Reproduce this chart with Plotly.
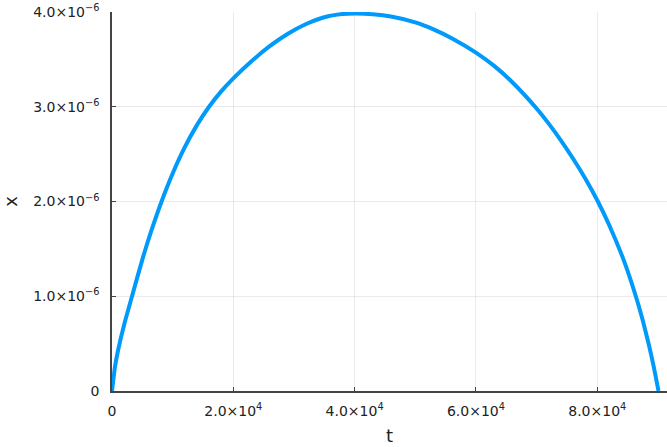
import plotly.graph_objects as go

# data (t, x in units of 1e-6)
t_vals = [0, 500, 1000, 2000, 3300, 5000, 6500, 8200, 10000, 12000, 14000, 16000,
          18000, 20000, 23000, 26000, 29000, 32000, 35000, 38000, 40200,
          43000, 46000, 50000, 53000, 56000, 60000, 63000, 66000, 70000, 72000,
          74000, 76000, 78000, 80000, 82000, 84000, 85000, 86500, 87500, 88500,
          89300, 90100]
x_vals_e6 = [0, 0.26, 0.43, 0.70, 1.0, 1.387, 1.694, 2.006, 2.296, 2.573, 2.806, 3.0,
             3.162, 3.30, 3.48, 3.639, 3.77, 3.873, 3.945, 3.978, 3.984,
             3.976, 3.952, 3.89, 3.817, 3.724, 3.572, 3.431, 3.259, 2.982, 2.822,
             2.646, 2.454, 2.246, 2.013, 1.747, 1.442, 1.267, 0.971, 0.746, 0.491,
             0.26, 0]
x_vals = [v * 1e-6 for v in x_vals_e6]

xtick_vals = [0, 2e4, 4e4, 6e4, 8e4]
xtick_text = ["0", "2.0×10<sup>4</sup>", "4.0×10<sup>4</sup>", "6.0×10<sup>4</sup>", "8.0×10<sup>4</sup>"]
ytick_vals = [0, 1e-6, 2e-6, 3e-6, 4e-6]
ytick_text = ["0", "1.0×10<sup>−6</sup>", "2.0×10<sup>−6</sup>", "3.0×10<sup>−6</sup>", "4.0×10<sup>−6</sup>"]

fig = go.Figure()
fig.add_trace(go.Scatter(x=t_vals, y=x_vals, mode="lines",
                         line=dict(color="#009AFA", width=4, shape="spline", smoothing=0.6),
                         showlegend=False, hoverinfo="skip"))

font = "DejaVu Sans"
axis_common = dict(
    showline=True, linecolor="#444444", linewidth=1.5,
    showgrid=True, gridcolor="rgba(0,0,0,0.08)", gridwidth=1,
    ticks="inside", ticklen=4, tickwidth=1.2, tickcolor="#444444",
    zeroline=False, tickfont=dict(family=font, size=14, color="#222222"),
    mirror=False, automargin=False,
)

fig.update_layout(
    width=667, height=447,
    margin=dict(l=112, r=0, t=12, b=56),
    plot_bgcolor="white", paper_bgcolor="white",
    font=dict(family=font, color="#222222"),
    xaxis=dict(range=[0, 91500], tickvals=xtick_vals, ticktext=xtick_text,
               title=dict(text="t", font=dict(family=font, size=18), standoff=12),
               ticklabelstandoff=6, **axis_common),
    yaxis=dict(range=[0, 4e-6], tickvals=ytick_vals, ticktext=ytick_text,
               title=dict(text="x", font=dict(family=font, size=18), standoff=22),
               ticklabelstandoff=8, **axis_common),
)

fig.write_html("out.html", config={"displayModeBar": False},
               post_script="document.body.style.margin='0';document.body.style.padding='0';document.body.style.overflow='hidden';")
